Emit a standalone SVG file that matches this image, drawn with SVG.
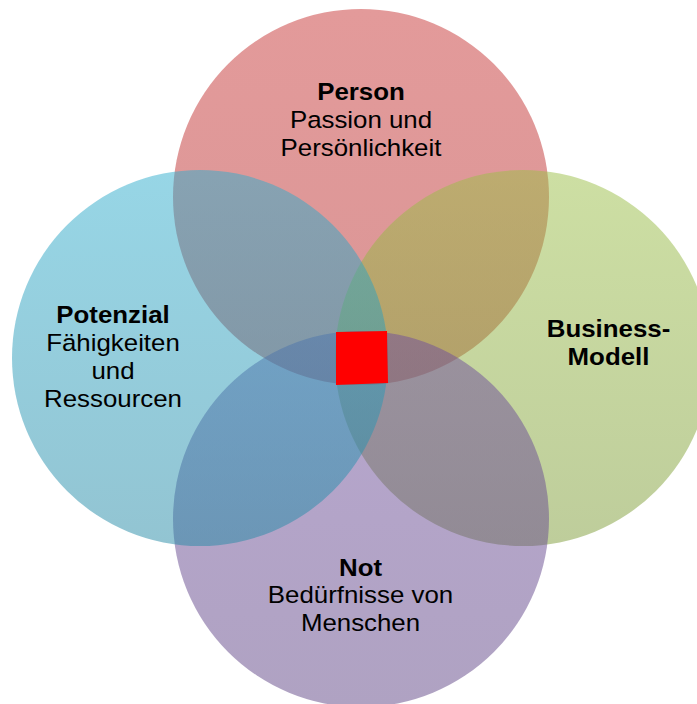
<svg xmlns="http://www.w3.org/2000/svg" width="697" height="704" viewBox="0 0 697 704">
  <style>
    .lbl { font-family: "Liberation Sans", Arial, sans-serif; font-size: 23.5px; fill: #000; text-anchor: middle; }
    .b { font-weight: bold; }
  </style>
  <defs>
    <linearGradient id="gRed" x1="0" y1="0" x2="0" y2="1">
      <stop offset="0" stop-color="#C73535" stop-opacity="0.5"/>
      <stop offset="1" stop-color="#B52D2D" stop-opacity="0.5"/>
    </linearGradient>
    <linearGradient id="gCyan" x1="0" y1="0" x2="0" y2="1">
      <stop offset="0" stop-color="#2FADCD" stop-opacity="0.5"/>
      <stop offset="1" stop-color="#2589A5" stop-opacity="0.5"/>
    </linearGradient>
    <linearGradient id="gGreen" x1="0" y1="0" x2="0" y2="1">
      <stop offset="0" stop-color="#9BBF47" stop-opacity="0.5"/>
      <stop offset="1" stop-color="#7D9B37" stop-opacity="0.5"/>
    </linearGradient>
    <linearGradient id="gPurple" x1="0" y1="0" x2="0" y2="1">
      <stop offset="0" stop-color="#6F4D9D" stop-opacity="0.5"/>
      <stop offset="1" stop-color="#5F4585" stop-opacity="0.5"/>
    </linearGradient>
  </defs>

  <g id="person-circle"><circle cx="361" cy="197" r="188" fill="url(#gRed)"/></g>
  <g id="business-circle"><circle cx="523" cy="358" r="188" fill="url(#gGreen)"/></g>
  <g id="not-circle"><circle cx="361" cy="519" r="188" fill="url(#gPurple)"/></g>
  <g id="potenzial-circle"><circle cx="200" cy="358" r="188" fill="url(#gCyan)"/></g>

  <g id="center-square"><polygon points="336,332 387,331 388,383 336,385" fill="#FF0000"/></g>

  <g id="person-label" transform="translate(361,0) scale(1.1,1)">
    <text class="lbl b" x="0" y="100.5">Person</text>
    <text class="lbl" x="0" y="128.3">Passion und</text>
    <text class="lbl" x="0" y="155.7">Persönlichkeit</text>
  </g>
  <g id="potenzial-label" transform="translate(113,0) scale(1.1,1)">
    <text class="lbl b" x="0" y="323.5">Potenzial</text>
    <text class="lbl" x="0" y="351.5">Fähigkeiten</text>
    <text class="lbl" x="0" y="379.3">und</text>
    <text class="lbl" x="0" y="406.7">Ressourcen</text>
  </g>
  <g id="business-label" transform="translate(608.5,0) scale(1.1,1)">
    <text class="lbl b" x="0" y="336.7">Business-</text>
    <text class="lbl b" x="0" y="365">Modell</text>
  </g>
  <g id="not-label" transform="translate(360.5,0) scale(1.1,1)">
    <text class="lbl b" x="0" y="576">Not</text>
    <text class="lbl" x="0" y="603.3">Bedürfnisse von</text>
    <text class="lbl" x="0" y="630.7">Menschen</text>
  </g>
  <g id="connectors"></g>
</svg>
